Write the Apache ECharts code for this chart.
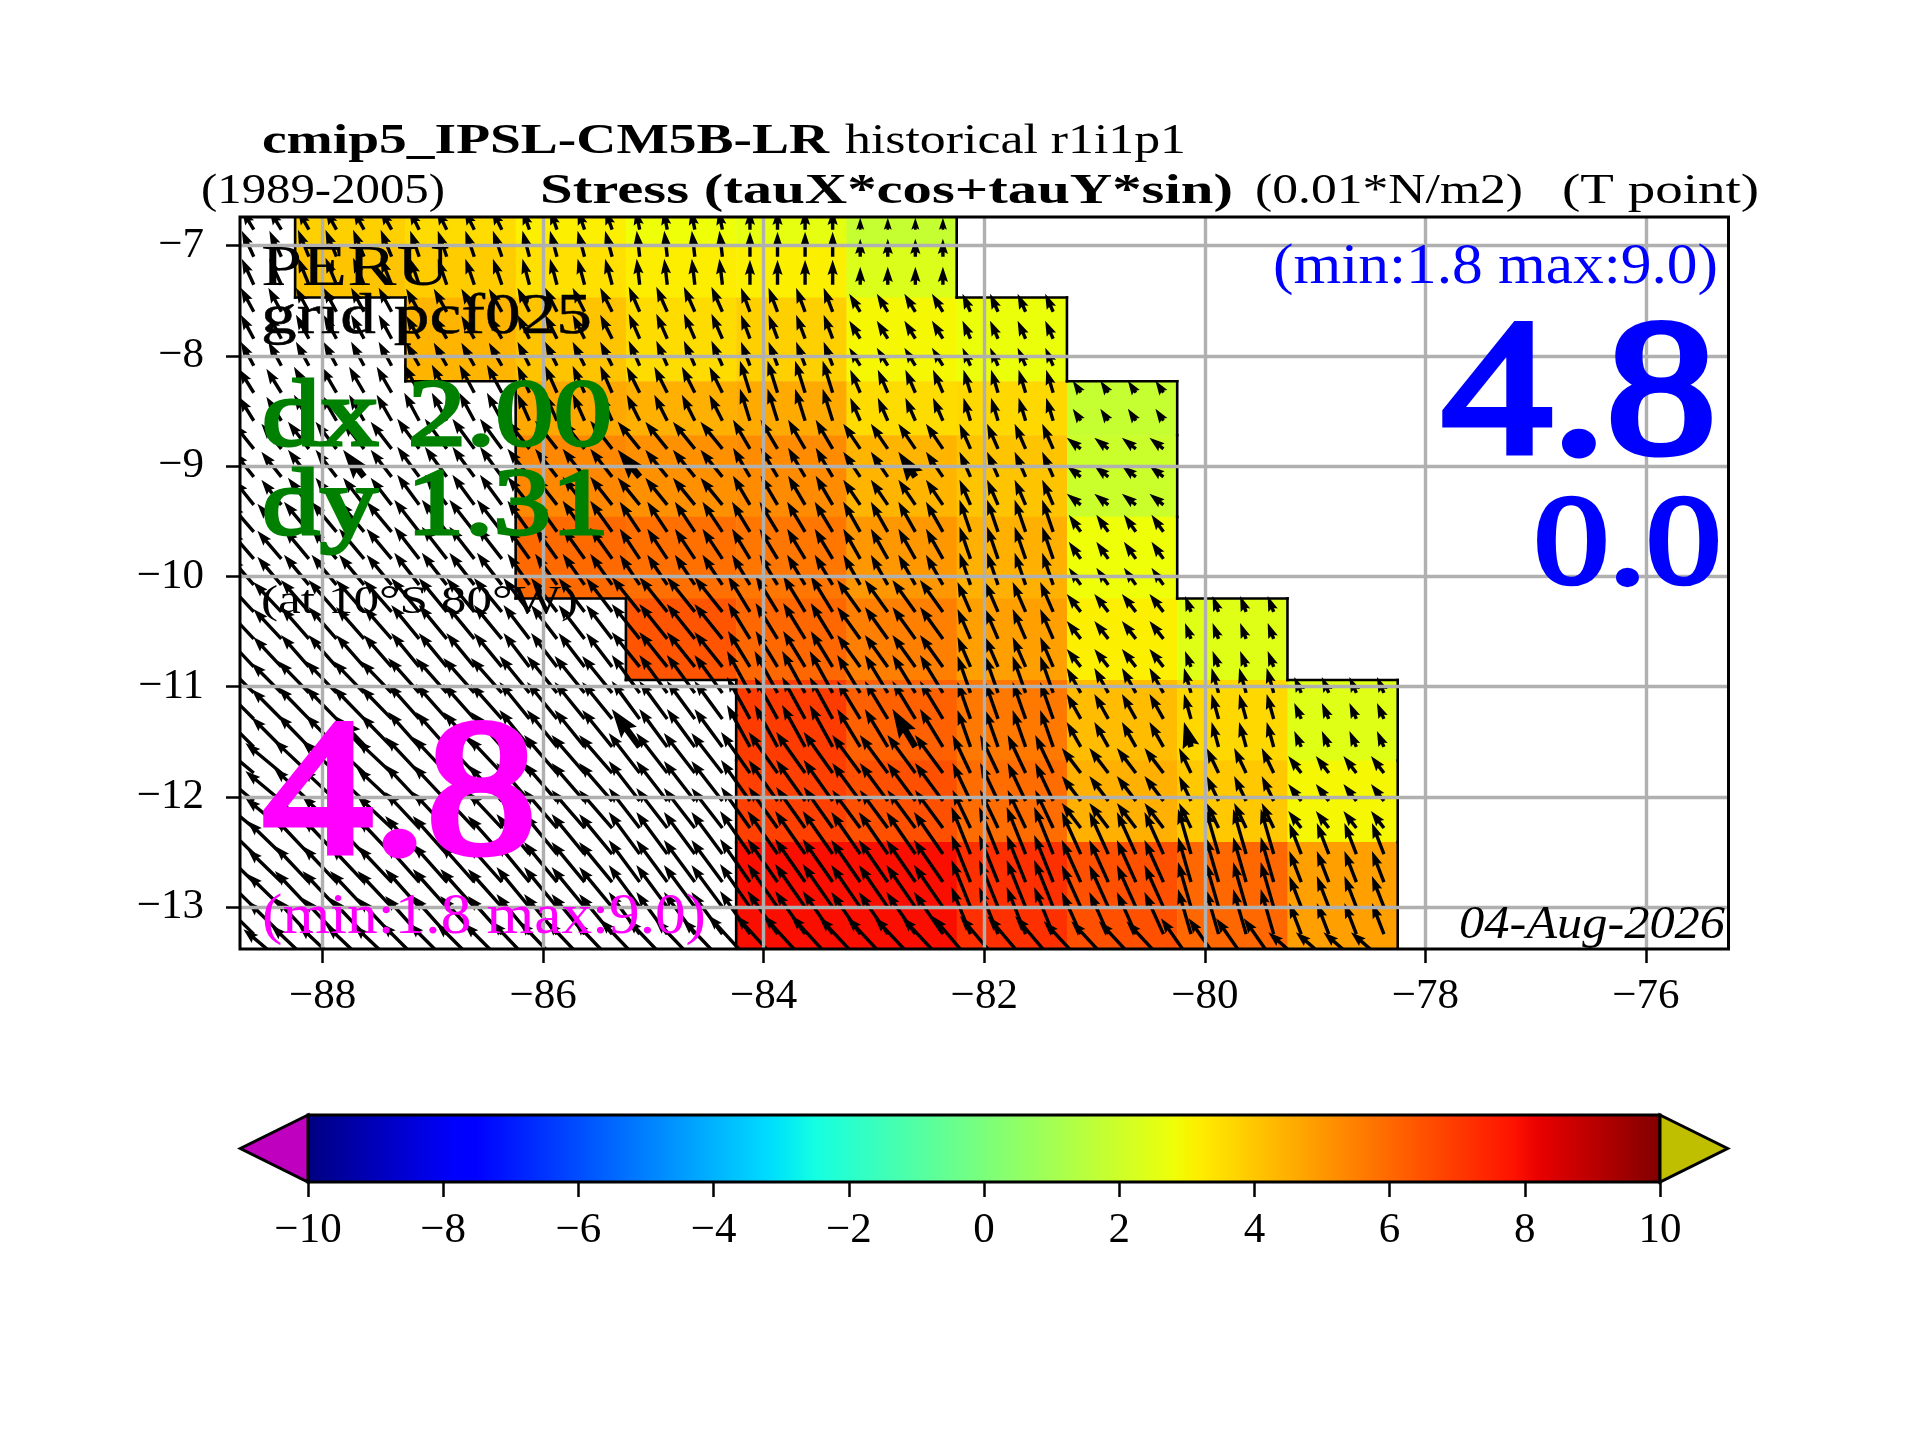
<!DOCTYPE html>
<html><head><meta charset="utf-8">
<style>html,body{margin:0;padding:0;background:#fff}#c{width:1920px;height:1440px}</style>
<script src="https://cdn.jsdelivr.net/npm/echarts@6/dist/echarts.min.js"></script>
</head><body><div id="c"></div>
<script>
// ---------- DATA ----------
const xTicks = [-88,-86,-84,-82,-80,-78,-76];
const yTicks = [-13,-12,-11,-10,-9,-8,-7];
const cbarTicks = [-10,-8,-6,-4,-2,0,2,4,6,8,10];
const colEdgeLons = [-88.25,-87.25,-86.25,-85.25,-84.25,-83.25,-82.25,-81.25,-80.25,-79.25,-78.25];
const rowEdgeLats = [-6.74,-7.0,-7.47,-8.23,-8.72,-9.46,-10.2,-10.94,-11.67,-12.41,-13.38];
const _ = null;
// stress magnitude per coarse cell (top row first)
const stressRow0 = [3.8,3.54,3.12,2.79,2.6,1.8,_,_,_,_];
const stressRow1 = [4.05,3.88,3.46,3.15,3.12,2.35,_,_,_,_];
const stressRow2 = [_,4.39,4.05,3.54,3.8,2.95,2.75,_,_,_];
const stressRow3 = [_,_,4.64,4.47,4.6,3.54,3.63,1.8,_,_];
const stressRow4 = [_,_,5.32,5.15,5.24,4.39,4.05,1.96,_,_];
const stressRow5 = [_,_,5.96,5.83,5.7,4.98,4.47,2.79,_,_];
const stressRow6 = [_,_,_,6.42,6.0,5.49,4.81,3.12,2.45,_];
const stressRow7 = [_,_,_,_,6.93,6.17,5.66,4.22,3.63,2.45];
const stressRow8 = [_,_,_,_,6.84,6.51,5.91,4.47,3.96,2.95];
const stressRow9 = [_,_,_,_,7.9,7.9,7.18,6.51,6.0,4.81];
const stressRows = [stressRow0,stressRow1,stressRow2,stressRow3,stressRow4,stressRow5,stressRow6,stressRow7,stressRow8,stressRow9];
// arrow tails, grouped by coarse column / row
const arrowCols = [[-88.625,-88.375],[-88.125,-87.875,-87.625,-87.375],[-87.125,-86.875,-86.625,-86.375],[-86.125,-85.875,-85.625,-85.375],[-85.125,-84.875,-84.625,-84.375],[-84.125,-83.875,-83.625,-83.375],[-83.125,-82.875,-82.625,-82.375],[-82.125,-81.875,-81.625,-81.375],[-81.125,-80.875,-80.625,-80.375],[-80.125,-79.875,-79.625,-79.375],[-79.125,-78.875,-78.625,-78.375]];
const arrowRows = [[-6.855],[-7.10,-7.354],[-7.60,-7.844,-8.089],[-8.334,-8.588],[-8.843,-9.097,-9.351],[-9.596,-9.841,-10.077],[-10.322,-10.567,-10.821],[-11.057,-11.293,-11.547],[-11.784,-12.038,-12.283],[-12.519,-12.773,-13.0,-13.245],[-13.49]];
const heavyLons = [-87.625,-85.125,-82.625,-80.125];
const heavyLats = [-9.097,-11.547];
// quiver components per block (first column = west of the coloured area)
const uRows = [
 [-12,-11,-10,-7,-4,0,0],
 [-12,-11,-9,-7,-3,0,0],
 [-13,-13,-13,-12,-11,-9,-11,-8],
 [-15,-15,-15,-12,-13,-10,-10,-7,-8],
 [-20,-21,-22,-22,-22,-17,-17,-11,-14],
 [-24,-25,-25,-22,-20,-18,-17,-11,-12],
 [-28,-28,-28,-26,-28,-22,-23,-13,-14,-6],
 [-30,-31,-31,-30,-28,-23,-23,-13,-14,-7,-7],
 [-36,-35,-34,-33,-31,-29,-28,-18,-19,-12,-13],
 [-34,-34,-34,-33,-31,-30,-29,-19,-19,-13,-12],
 [-38,-38,-38,-38,-40,-42,-41,-38,-37,-30,-33]];
const vRows = [
 [20,20,20,20,20,20,12],
 [26,27,26,26,26,25,18],
 [24,24,23,24,25,24,18,18],
 [24,26,28,27,26,32,23,23,12],
 [25,27,30,28,27,29,25,25,11],
 [28,30,32,31,30,30,30,32,17],
 [30,32,34,34,35,36,32,30,18,16],
 [30,32,35,37,38,42,38,37,25,25,16],
 [30,33,36,38,40,41,38,38,25,25,17],
 [33,36,38,40,42,43,42,47,42,45,31],
 [32,36,38,40,42,46,44,45,40,43,29]];
// jet colour map over the colour-bar range
const jetPos = [0,.11,.125,.34,.35,.375,.64,.65,.66,.89,.91,1];
const jetCol = [[0,0,128],[0,0,255],[0,0,255],[0,219,255],[0,230,247],[20,255,226],[238,255,8],[247,245,0],[255,236,0],[255,19,0],[232,0,0],[128,0,0]];
const cbarMin = -10, cbarMax = 10;
const underColor = '#bf00bf', overColor = '#bfbf00';
// ---------- HELPERS ----------
const serif = '"Liberation Serif"';
function jet(v){
  const t=Math.min(1,Math.max(0,(v-cbarMin)/(cbarMax-cbarMin)));
  for(let i=1;i<jetPos.length;i++) if(t<=jetPos[i]){
    const f=(t-jetPos[i-1])/(jetPos[i]-jetPos[i-1]);
    const a=jetCol[i-1],b=jetCol[i];
    return 'rgb('+a.map((x,k)=>Math.round(x+(b[k]-x)*f)).join(',')+')';
  }
  return 'rgb(128,0,0)';
}
const mc=document.createElement('canvas').getContext('2d');
function txt(text,x0,x1,base,size,color,style,embolden){
  const font=(style?style+' ':'')+size+'px '+serif;
  mc.font=font; mc.textBaseline='alphabetic';
  const w=mc.measureText(text).width;
  mc.textBaseline='middle';
  const off=mc.measureText('H').actualBoundingBoxDescent;
  const st={text,font,fill:color||'#000',align:'left',verticalAlign:'middle'};
  if(embolden){st.stroke=color||'#000';st.lineWidth=embolden;}
  return {type:'text',x:x0,y:base-off,scaleX:(x1-x0)/w,scaleY:1,z:50,silent:true,style:st};
}
const minus=v=>String(v).replace('-','\u2212');
// ---------- DERIVED SERIES DATA ----------
const cells=[],contour=[],arrows=[];
stressRows.forEach((row,r)=>row.forEach((v,c)=>{
  if(v===null) return;
  const x0=colEdgeLons[c],x1=colEdgeLons[c+1],y0=rowEdgeLats[r],y1=rowEdgeLats[r+1];
  cells.push([x0,y0,x1,y1,v]);
  const up=r>0?stressRows[r-1][c]:0, dn=r<stressRows.length-1?stressRows[r+1][c]:0;
  const lf=c>0?row[c-1]:null, rt=c<row.length-1?row[c+1]:null;
  if(up===null) contour.push([x0,y0,x1,y0]);
  if(dn===null) contour.push([x0,y1,x1,y1]);
  if(lf===null) contour.push([x0,y0,x0,y1]);
  if(rt===null) contour.push([x1,y0,x1,y1]);
}));
arrowRows.forEach((lats,r)=>lats.forEach(lat=>{
  uRows[r].forEach((u,c)=>arrowCols[c].forEach(lon=>{
    const heavy=heavyLons.includes(lon)&&heavyLats.includes(lat)?1:0;
    arrows.push([lon,lat,u,vRows[r][c],heavy]);
  }));
}));
function arrowPoly(p,u,v,w){
  const L=Math.hypot(u,v); if(L===0) return [];
  const hl=4.5*w,hal=4*w,hw=3*w;
  const len=Math.max(L,hl), s=L<hl?L/hl:1;
  const a=[[0,-w/2],[len-hal,-w/2],[len-hl,-hw/2],[len,0],[len-hl,hw/2],[len-hal,w/2],[0,w/2]];
  const ux=u/L,uy=-v/L;
  return a.map(q=>[p[0]+s*(q[0]*ux-q[1]*uy),p[1]+s*(q[0]*uy+q[1]*ux)]);
}
const frame=(x,y,w,h)=>({type:'rect',z:40,silent:true,shape:{x,y,width:w,height:h},style:{fill:'none',stroke:'#000',lineWidth:3}});
// ---------- CHART ----------
const chart=echarts.init(document.getElementById('c'),null,{renderer:'canvas'});
const axisLabelBase={fontFamily:serif,fontSize:43,color:'#000',formatter:minus};
chart.setOption({
  animation:false,backgroundColor:'#fff',
  grid:[{left:240,top:217,width:1488.5,height:732},{left:308,top:1115,width:1352,height:67}],
  xAxis:[
   {type:'value',gridIndex:0,min:-88.75,max:-75.25,z:5,
    axisLine:{show:false},
    axisTick:{show:true,length:14,lineStyle:{color:'#000',width:2.5},customValues:xTicks},
    axisLabel:{...axisLabelBase,margin:26,customValues:xTicks,hideOverlap:false},
    splitLine:{show:true,lineStyle:{color:'#b0b0b0',width:3.4}}},
   {type:'value',gridIndex:1,min:cbarMin,max:cbarMax,interval:2,z:5,
    axisLine:{show:false},
    axisTick:{show:true,length:15,lineStyle:{color:'#000',width:2.5}},
    axisLabel:{...axisLabelBase,margin:27,customValues:cbarTicks},
    splitLine:{show:false}}],
  yAxis:[
   {type:'value',gridIndex:0,min:-13.38,max:-6.74,z:5,
    axisLine:{show:false},
    axisTick:{show:true,length:14,lineStyle:{color:'#000',width:2.5},customValues:yTicks},
    axisLabel:{...axisLabelBase,margin:36,customValues:yTicks},
    splitLine:{show:true,lineStyle:{color:'#b0b0b0',width:3.4}}},
   {type:'value',gridIndex:1,min:0,max:1,show:false}],
  series:[
   {type:'custom',xAxisIndex:0,yAxisIndex:0,z:1,silent:true,clip:true,data:cells,encode:{x:[0,2],y:[1,3]},
    renderItem(p,api){
      const a=api.coord([api.value(0),api.value(1)]),b=api.coord([api.value(2),api.value(3)]);
      return {type:'rect',shape:{x:a[0],y:a[1],width:b[0]-a[0]+.5,height:b[1]-a[1]+.5},style:{fill:jet(api.value(4))}};
    }},
   {type:'custom',xAxisIndex:0,yAxisIndex:0,z:2,silent:true,clip:true,data:contour,encode:{x:[0,2],y:[1,3]},
    renderItem(p,api){
      const a=api.coord([api.value(0),api.value(1)]),b=api.coord([api.value(2),api.value(3)]);
      return {type:'line',shape:{x1:a[0],y1:a[1],x2:b[0],y2:b[1]},style:{stroke:'#000',lineWidth:2.6,lineCap:'square'}};
    }},
   {type:'custom',xAxisIndex:0,yAxisIndex:0,z:3,silent:true,clip:true,progressive:0,data:arrows,encode:{x:0,y:1},
    renderItem(p,api){
      const t=api.coord([api.value(0),api.value(1)]);
      const w=api.value(4)?6.5:3.4;
      return {type:'polygon',shape:{points:arrowPoly(t,api.value(2),api.value(3),w)},style:{fill:'#000'}};
    }},
   {type:'custom',xAxisIndex:1,yAxisIndex:1,z:3,silent:true,clip:false,data:[[cbarMin,0,cbarMax,1]],encode:{x:[0,2],y:[1,3]},
    renderItem(p,api){
      const a=api.coord([api.value(0),api.value(3)]),b=api.coord([api.value(2),api.value(1)]);
      const h=b[1]-a[1],ext=(b[0]-a[0])*0.05,m=a[1]+h/2;
      const stops=jetPos.map((q,i)=>({offset:q,color:'rgb('+jetCol[i].join(',')+')'}));
      const s={stroke:'#000',lineWidth:3,lineJoin:'miter'};
      return {type:'group',children:[
        {type:'rect',shape:{x:a[0],y:a[1],width:b[0]-a[0],height:h},style:{...s,fill:new echarts.graphic.LinearGradient(0,0,1,0,stops)}},
        {type:'polygon',shape:{points:[[a[0],a[1]],[a[0]-ext,m],[a[0],b[1]]]},style:{...s,fill:underColor}},
        {type:'polygon',shape:{points:[[b[0],a[1]],[b[0]+ext,m],[b[0],b[1]]]},style:{...s,fill:overColor}}
      ]};
    }}
  ],
  graphic:[
    frame(240,217,1488.5,732),
    txt('cmip5_IPSL-CM5B-LR',262,829,153,43,'#000','bold'),
    txt('historical r1i1p1',845,1186,153,43),
    txt('(1989-2005)',201,445,203,43),
    txt('Stress (tauX*cos+tauY*sin)',540,1233,203,43,'#000','bold'),
    txt('(0.01*N/m2)',1255,1523,203,43),
    txt('(T point)',1562,1759,203,43),
    txt('PERU',261,450,285,57),
    txt('grid pcf025',261,592,333,57,'#000','',0.5),
    txt('dx 2.00',262,612,445,95,'#008000','',3),
    txt('dy 1.31',262,609,534,95,'#008000','',3),
    txt('(at 10\u00B0S 80\u00B0W)',261,578,613,41),
    txt('4.8',263,536,852,192,'#ff00ff','',7),
    txt('(min:1.8 max:9.0)',262,706,933,57,'#ff00ff'),
    txt('(min:1.8 max:9.0)',1273,1718,283,57,'#0000ff'),
    txt('4.8',1442,1716,452,192,'#0000ff','',7),
    txt('0.0',1534,1721,583,128,'#0000ff','',4.5),
    txt('04-Aug-2026',1459,1725,938,46,'#000','italic')
  ]
});
</script></body></html>
